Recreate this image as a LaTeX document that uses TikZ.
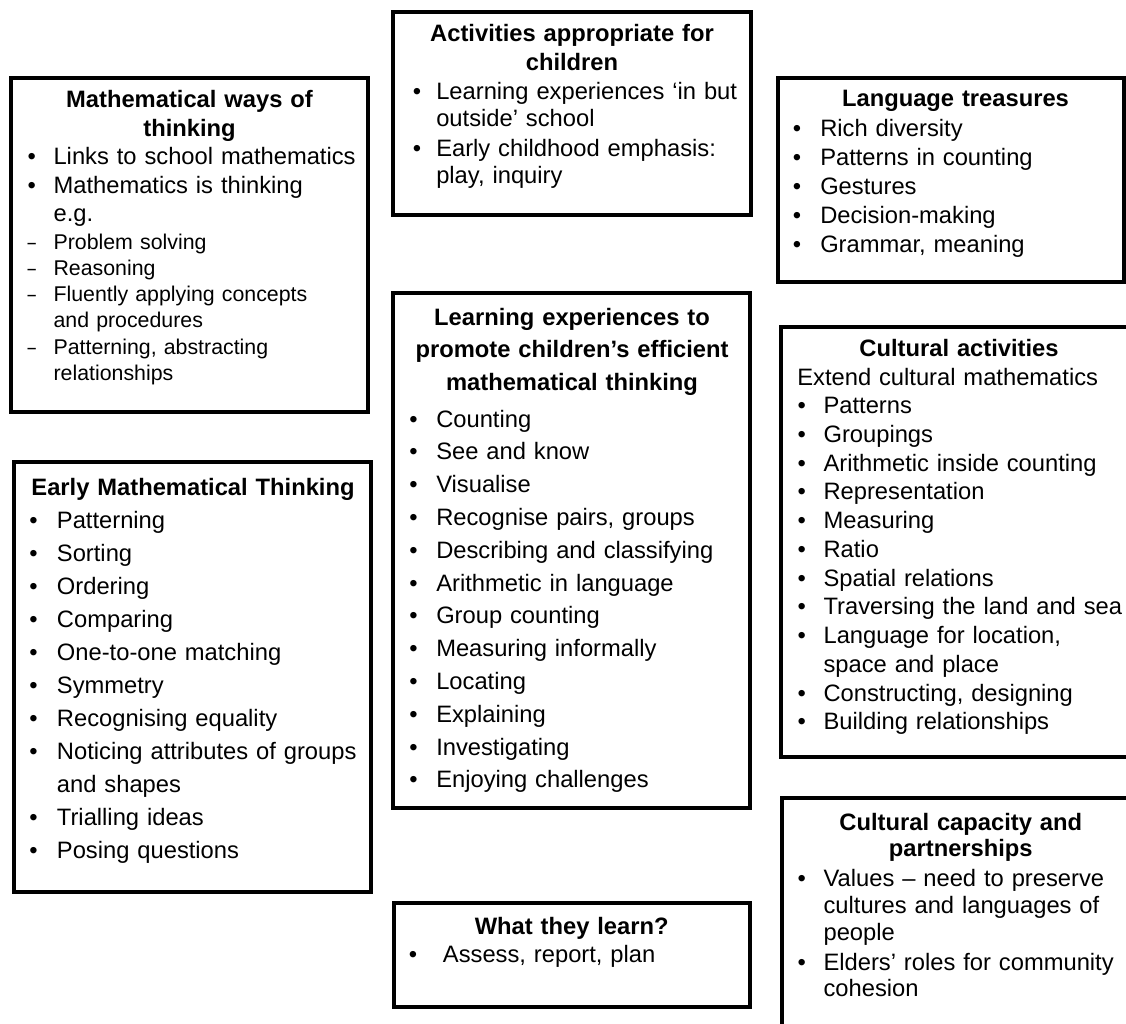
\documentclass[tikz,border=0pt]{standalone}
\usepackage{fontspec}
\usepackage{graphicx}
\setmainfont{Liberation Sans}
\newlength\bgap
\newcommand\bl{\leavevmode\llap{\makebox[2\bgap][c]{•}}}
\newcommand\sd{\leavevmode\llap{\makebox[2\bgap][c]{\scalebox{0.7}[1]{–}}}}
\newcommand\drawbox[5]{\node[box, minimum width={(#4-#2)*0.75pt}, minimum height={(#5-#3)*0.75pt}] (#1) at (#2,#3) {};}
\tikzset{
  box/.style={draw=black, line width=2.6pt, rectangle, inner sep=0pt, outer sep=0pt, anchor=north west},
  ttl/.style={anchor=base, align=center, text width=265pt, inner sep=0pt,
    font={\fontsize{17.8pt}{#1}\selectfont\bfseries}},
  lst/.style={anchor=base west, align=left, text width=300pt, inner sep=0pt,
    font={\fontsize{17.8pt}{#1}\selectfont}},
  sublst/.style={anchor=base west, align=left, text width=300pt, inner sep=0pt,
    font={\fontsize{16pt}{#1}\selectfont}},
  gap/.style={execute at begin node={\setlength\bgap{#1}}}
}
\begin{document}
\begin{tikzpicture}[x=0.75pt, y=-0.75pt]
\useasboundingbox (0,0) rectangle (1126,1023);
\fill[white] (0,0) rectangle (1126,1023);
\clip (0,0) rectangle (1126,1023);

% boxes
\drawbox{mw}{11}{78}{368}{412}
\drawbox{act}{393}{12}{751}{215}
\drawbox{lang}{778}{78}{1124}{282}
\drawbox{learn}{393}{293}{750}{808}
\drawbox{early}{14}{462}{371}{892}
\drawbox{what}{394}{903}{750}{1007}
\drawbox{cult}{781}{327}{1145}{757}
\drawbox{cap}{782}{798}{1145}{1045}

% Mathematical ways of thinking
\node[ttl=21.75pt] (mw-t) at (189.5,107.7) {Mathematical ways of\\thinking};
\node[lst=21.2pt, gap=16.3pt] (mw-l) at (53.3,165) {\bl Links to school mathematics\\
\bl Mathematics is thinking\\
e.g.};
\node[sublst=19.5pt, gap=16.3pt] (mw-s) at (53.3,250) {\sd Problem solving\\
\sd Reasoning\\
\sd Fluently applying concepts\\
and procedures\\
\sd Patterning, abstracting\\
relationships};

% Activities appropriate for children
\node[ttl=21.4pt] (act-t) at (572,41.7) {Activities appropriate for\\children};
\node[lst=20.5pt, gap=14.5pt] (act-l) at (436,99.3) {\bl Learning experiences ‘in but\\
outside’ school\\[2pt]
\bl Early childhood emphasis:\\
play, inquiry};

% Language treasures
\node[ttl=21.7pt] (lang-t) at (955.5,106.7) {Language treasures};
\node[lst=21.7pt, gap=17.5pt] (lang-l) at (820,137) {\bl Rich diversity\\
\bl Patterns in counting\\
\bl Gestures\\
\bl Decision-making\\
\bl Grammar, meaning};

% Learning experiences
\node[ttl=24.2pt] (learn-t) at (572,325.7) {Learning experiences to\\promote children’s efficient\\mathematical thinking};
\node[lst=24.6pt, gap=17pt] (learn-l) at (436,427) {\bl Counting\\
\bl See and know\\
\bl Visualise\\
\bl Recognise pairs, groups\\
\bl Describing and classifying\\
\bl Arithmetic in language\\
\bl Group counting\\
\bl Measuring informally\\
\bl Locating\\
\bl Explaining\\
\bl Investigating\\
\bl Enjoying challenges};

% Early Mathematical Thinking
\node[ttl=24.75pt] (early-t) at (193,495) {Early Mathematical Thinking};
\node[lst=24.75pt, gap=17.5pt] (early-l) at (56.7,528.3) {\bl Patterning\\
\bl Sorting\\
\bl Ordering\\
\bl Comparing\\
\bl One-to-one matching\\
\bl Symmetry\\
\bl Recognising equality\\
\bl Noticing attributes of groups\\
and shapes\\
\bl Trialling ideas\\
\bl Posing questions};

% What they learn?
\node[ttl=21pt] (what-t) at (571.7,934.3) {What they learn?};
\node[lst=21pt, gap=22.5pt] (what-l) at (442.7,962.7) {\bl Assess, report, plan};

% Cultural activities
\node[ttl=21.6pt] (cult-t) at (959,356.7) {Cultural activities};
\node[lst=21.56pt, gap=16.3pt] (cult-l) at (823.3,385) {\hspace*{-19.7pt}Extend cultural mathematics\\
\bl Patterns\\
\bl Groupings\\
\bl Arithmetic inside counting\\
\bl Representation\\
\bl Measuring\\
\bl Ratio\\
\bl Spatial relations\\
\bl Traversing the land and sea\\
\bl Language for location,\\
space and place\\
\bl Constructing, designing\\
\bl Building relationships};

% Cultural capacity and partnerships
\node[ttl=19.5pt] (cap-t) at (960.8,830) {Cultural capacity and\\partnerships};
\node[lst=20pt, gap=16.3pt] (cap-l) at (823.3,886.7) {\bl Values – need to preserve\\
cultures and languages of\\
people\\[2.5pt]
\bl Elders’ roles for community\\
cohesion};
\end{tikzpicture}
\end{document}
